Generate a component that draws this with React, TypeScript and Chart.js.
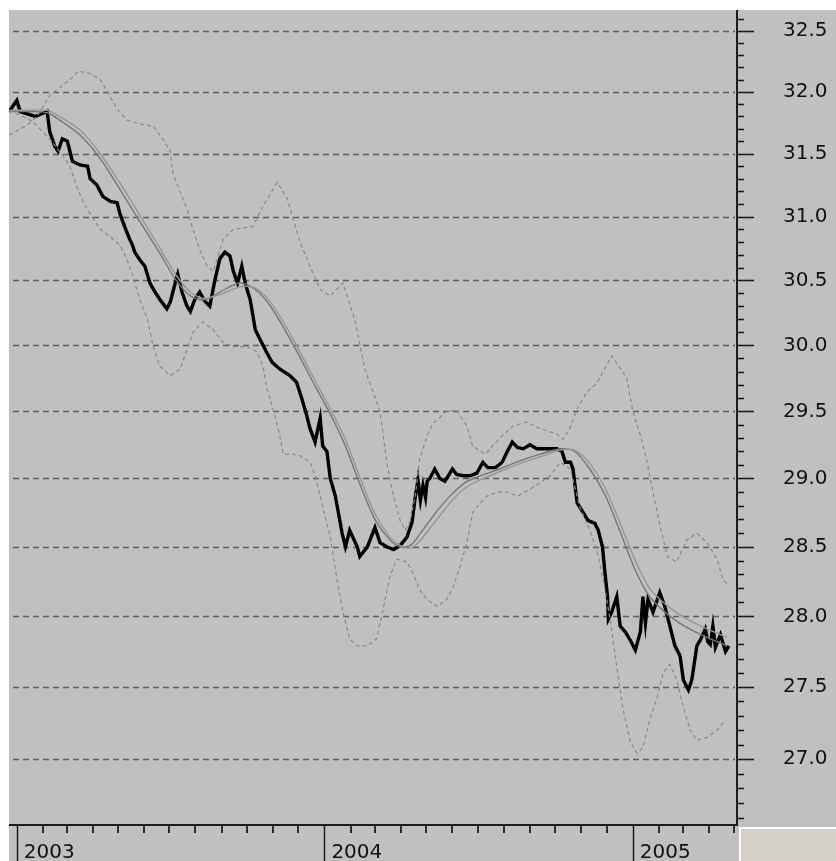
import React, { useEffect, useRef } from "react";
import { Chart, registerables } from "chart.js";

Chart.register(...registerables);

// x values are days counted from 1 January 2003
const priceDays = [-9, 0, 4, 22, 36, 39, 45, 49, 54, 60, 66, 75, 84, 87, 95, 102, 111, 119, 122, 128, 134, 137, 140, 146, 152, 158, 164, 170, 178, 182, 188, 191, 196, 202, 206, 211, 217, 223, 229, 235, 241, 247, 253, 257, 262, 267, 271, 277, 283, 289, 297, 303, 312, 324, 332, 338, 344, 348, 354, 360, 363, 368, 372, 378, 381, 386, 390, 395, 404, 407, 416, 425, 431, 439, 447, 455, 463, 469, 473, 476, 479, 482, 485, 487, 490, 496, 502, 508, 517, 522, 530, 538, 546, 553, 559, 568, 576, 582, 588, 594, 601, 609, 617, 629, 641, 647, 651, 657, 660, 665, 672, 678, 686, 690, 695, 698, 701, 702, 706, 712, 716, 722, 728, 734, 740, 743, 746, 749, 755, 763, 769, 775, 781, 787, 791, 797, 801, 807, 811, 817, 820, 823, 826, 829, 835, 841, 845];
const priceValues = [31.84, 31.93, 31.84, 31.8, 31.84, 31.68, 31.56, 31.52, 31.62, 31.6, 31.44, 31.41, 31.4, 31.3, 31.25, 31.16, 31.12, 31.11, 31.03, 30.92, 30.82, 30.78, 30.72, 30.66, 30.61, 30.48, 30.41, 30.35, 30.28, 30.33, 30.48, 30.55, 30.41, 30.3, 30.26, 30.35, 30.41, 30.34, 30.3, 30.5, 30.67, 30.72, 30.69, 30.57, 30.48, 30.61, 30.48, 30.35, 30.12, 30.04, 29.94, 29.87, 29.82, 29.77, 29.72, 29.6, 29.47, 29.37, 29.27, 29.45, 29.24, 29.2, 29.0, 28.87, 28.77, 28.6, 28.5, 28.62, 28.5, 28.43, 28.5, 28.64, 28.53, 28.5, 28.48, 28.51, 28.57, 28.68, 28.87, 28.99, 28.84, 28.95, 28.86, 28.98, 29.0, 29.07, 29.0, 28.98, 29.07, 29.03, 29.02, 29.02, 29.04, 29.12, 29.08, 29.08, 29.12, 29.2, 29.27, 29.23, 29.22, 29.25, 29.22, 29.22, 29.22, 29.2, 29.12, 29.12, 29.07, 28.82, 28.75, 28.69, 28.67, 28.62, 28.5, 28.31, 28.14, 27.98, 28.03, 28.14, 27.93, 27.89, 27.83, 27.76, 27.89, 28.14, 27.95, 28.12, 28.03, 28.17, 28.07, 27.93, 27.79, 27.72, 27.55, 27.48, 27.55, 27.79, 27.83, 27.91, 27.82, 27.8, 27.93, 27.78, 27.87, 27.75, 27.79, 27.8];

const maDays = [-9, 16, 36, 51, 75, 99, 122, 146, 170, 188, 206, 223, 241, 265, 283, 300, 318, 336, 354, 372, 390, 407, 425, 443, 455, 467, 478, 496, 514, 532, 550, 573, 597, 621, 645, 662, 680, 698, 716, 734, 751, 769, 787, 805, 823, 843];
const maFastValues = [31.84, 31.84, 31.83, 31.77, 31.65, 31.46, 31.22, 30.96, 30.71, 30.51, 30.38, 30.35, 30.41, 30.48, 30.43, 30.31, 30.12, 29.91, 29.69, 29.48, 29.24, 28.96, 28.7, 28.55, 28.5, 28.51, 28.59, 28.74, 28.87, 28.97, 29.02, 29.07, 29.13, 29.18, 29.22, 29.2, 29.07, 28.88, 28.61, 28.33, 28.14, 28.03, 27.95, 27.89, 27.84, 27.79];
const maSlowValues = [31.85, 31.85, 31.85, 31.8, 31.69, 31.5, 31.27, 31.01, 30.75, 30.55, 30.41, 30.36, 30.39, 30.45, 30.44, 30.34, 30.16, 29.95, 29.73, 29.52, 29.29, 29.01, 28.74, 28.57, 28.51, 28.49, 28.54, 28.68, 28.82, 28.93, 28.99, 29.05, 29.11, 29.16, 29.21, 29.21, 29.11, 28.93, 28.67, 28.4, 28.2, 28.09, 28.01, 27.95, 27.9, 27.85];

const upperDays = [-9, 12, 24, 39, 63, 73, 87, 99, 107, 119, 131, 146, 162, 173, 182, 185, 194, 202, 209, 217, 226, 233, 245, 257, 280, 292, 309, 321, 328, 336, 348, 360, 372, 387, 401, 413, 431, 439, 447, 455, 461, 467, 473, 478, 487, 494, 510, 522, 534, 541, 556, 573, 589, 605, 621, 641, 648, 656, 665, 677, 688, 706, 724, 731, 740, 748, 755, 763, 772, 783, 795, 807, 819, 831, 838, 844];
const upperValues = [31.65, 31.73, 31.8, 31.97, 32.1, 32.17, 32.15, 32.1, 32.01, 31.86, 31.77, 31.74, 31.72, 31.62, 31.52, 31.35, 31.19, 31.06, 30.9, 30.74, 30.61, 30.57, 30.82, 30.9, 30.92, 31.08, 31.27, 31.14, 30.98, 30.8, 30.61, 30.43, 30.38, 30.48, 30.2, 29.82, 29.5, 29.12, 28.87, 28.69, 28.62, 28.69, 28.88, 29.14, 29.32, 29.41, 29.5, 29.51, 29.39, 29.24, 29.18, 29.3, 29.39, 29.42, 29.37, 29.33, 29.29, 29.37, 29.52, 29.65, 29.71, 29.92, 29.75, 29.5, 29.32, 29.12, 28.9, 28.66, 28.43, 28.39, 28.55, 28.6, 28.53, 28.41, 28.26, 28.23];

const lowerDays = [-9, 19, 39, 55, 63, 71, 79, 91, 99, 111, 123, 131, 138, 146, 155, 162, 170, 182, 194, 202, 209, 221, 233, 245, 257, 273, 285, 292, 297, 304, 312, 316, 328, 336, 348, 354, 360, 366, 372, 380, 387, 395, 404, 416, 427, 434, 443, 451, 463, 470, 478, 487, 499, 510, 518, 526, 534, 541, 550, 558, 570, 582, 594, 609, 621, 633, 645, 657, 668, 680, 689, 696, 704, 712, 719, 728, 736, 743, 751, 760, 767, 775, 783, 791, 799, 807, 819, 831, 841];
const lowerValues = [31.85, 31.76, 31.62, 31.48, 31.4, 31.24, 31.11, 30.98, 30.9, 30.84, 30.77, 30.66, 30.53, 30.35, 30.2, 29.99, 29.84, 29.77, 29.82, 29.97, 30.1, 30.18, 30.12, 30.02, 29.99, 29.99, 29.95, 29.84, 29.67, 29.52, 29.32, 29.18, 29.18, 29.17, 29.12, 29.02, 28.87, 28.72, 28.57, 28.26, 28.03, 27.84, 27.79, 27.79, 27.84, 28.03, 28.29, 28.41, 28.39, 28.31, 28.19, 28.12, 28.07, 28.12, 28.21, 28.36, 28.53, 28.75, 28.82, 28.87, 28.9, 28.9, 28.87, 28.92, 28.97, 29.02, 29.12, 29.07, 28.79, 28.62, 28.46, 28.26, 27.98, 27.64, 27.36, 27.12, 27.04, 27.08, 27.27, 27.43, 27.6, 27.66, 27.55, 27.36, 27.2, 27.13, 27.15, 27.2, 27.27];

const yTickValues = [27.0, 27.5, 28.0, 28.5, 29.0, 29.5, 30.0, 30.5, 31.0, 31.5, 32.0, 32.5];
const yearLabels = ["2003", "2004", "2005"];
const yearDays = [0, 365, 731];
const monthDays = [0, 31, 59, 90, 120, 151, 181, 212, 243, 273, 304, 334, 365, 396, 425, 456, 486, 517, 547, 578, 609, 639, 670, 700, 731, 762, 790, 821, 851];

const X_MIN = -9.256;
const X_MAX = 854.64;
const Y_MIN = 26.551;
const Y_MAX = 32.674;

const FONT = { family: "DejaVu Sans", size: 20 };

const toPoints = (xs: number[], ys: number[]) => xs.map((x, i) => ({ x, y: ys[i] }));

const decorPlugin = {
  id: "decor",
  beforeDatasetsDraw(chart: any) {
    const { ctx, chartArea: a } = chart;
    const y = chart.scales.y;
    ctx.save();
    ctx.strokeStyle = "#5e5e5e";
    ctx.lineWidth = 1.3;
    ctx.setLineDash([6, 4]);
    yTickValues.forEach((v) => {
      const py = Math.round(y.getPixelForValue(v)) + 0.5;
      ctx.beginPath();
      ctx.moveTo(a.left + 4, py);
      ctx.lineTo(a.right - 2, py);
      ctx.stroke();
    });
    ctx.restore();
  },
  afterDraw(chart: any) {
    const { ctx, chartArea: a, width, height } = chart;
    const { x, y } = chart.scales;
    ctx.save();
    ctx.strokeStyle = "#1c1c1c";
    ctx.setLineDash([]);
    // right value axis
    ctx.lineWidth = 2;
    ctx.beginPath();
    ctx.moveTo(a.right, a.top);
    ctx.lineTo(a.right, a.bottom + 1);
    ctx.stroke();
    ctx.lineWidth = 1.6;
    for (let k = 266; k <= 326; k++) {
      const py = Math.round(y.getPixelForValue(k / 10)) + 0.5;
      if (py < a.top || py > a.bottom - 2) continue;
      const major = k % 5 === 0;
      ctx.beginPath();
      ctx.moveTo(a.right, py);
      ctx.lineTo(a.right + (major ? 17 : 7), py);
      ctx.stroke();
    }
    // bottom time axis
    ctx.lineWidth = 2;
    ctx.beginPath();
    ctx.moveTo(a.left, a.bottom);
    ctx.lineTo(a.right + 1, a.bottom);
    ctx.stroke();
    ctx.lineWidth = 1.8;
    monthDays.forEach((d) => {
      if (yearDays.includes(d)) return;
      const px = Math.round(x.getPixelForValue(d));
      if (px < a.left || px > a.right) return;
      ctx.beginPath();
      ctx.moveTo(px, a.bottom);
      ctx.lineTo(px, a.bottom + 8);
      ctx.stroke();
    });
    ctx.lineWidth = 1.5;
    yearDays.forEach((d) => {
      const px = Math.round(x.getPixelForValue(d)) + 0.5;
      ctx.beginPath();
      ctx.moveTo(px, a.bottom);
      ctx.lineTo(px, height);
      ctx.stroke();
    });
    // lower right panel
    const px0 = a.right + 2;
    const py0 = a.bottom + 2;
    ctx.fillStyle = "#ffffff";
    ctx.fillRect(px0, py0, width - px0, height - py0);
    ctx.fillStyle = "#d4d0c8";
    ctx.fillRect(px0 + 2, py0 + 2, width - px0 - 2, height - py0 - 2);
    ctx.restore();
  },
};

export default function App() {
  const canvasRef = useRef<HTMLCanvasElement | null>(null);

  useEffect(() => {
    if (!canvasRef.current) return;
    const bandStyle = {
      borderColor: "#8a8a8a",
      borderWidth: 1.2,
      borderDash: [4, 3],
      pointRadius: 0,
      fill: false,
      tension: 0,
    };
    const chart = new Chart(canvasRef.current, {
      type: "line",
      data: {
        datasets: [
          { label: "Upper band", data: toPoints(upperDays, upperValues), ...bandStyle },
          { label: "Lower band", data: toPoints(lowerDays, lowerValues), ...bandStyle },
          {
            label: "Slow average",
            data: toPoints(maDays, maSlowValues),
            borderColor: "#969696",
            borderWidth: 1.4,
            pointRadius: 0,
            tension: 0.3,
          },
          {
            label: "Fast average",
            data: toPoints(maDays, maFastValues),
            borderColor: "#767676",
            borderWidth: 1.4,
            pointRadius: 0,
            tension: 0.3,
          },
          {
            label: "Price",
            data: toPoints(priceDays, priceValues),
            borderColor: "#000000",
            borderWidth: 3.4,
            pointRadius: 0,
            tension: 0,
          },
        ],
      },
      options: {
        animation: false,
        responsive: true,
        maintainAspectRatio: false,
        layout: { padding: 0 },
        plugins: { legend: { display: false }, tooltip: { enabled: false } },
        scales: {
          x: {
            type: "linear",
            position: "bottom",
            min: X_MIN,
            max: X_MAX,
            bounds: "data",
            grid: { display: false, drawTicks: false },
            border: { display: false },
            afterBuildTicks: (s: any) => {
              s.ticks = yearDays.map((v) => ({ value: v }));
            },
            afterFit: (s: any) => {
              s.height = 36;
              s.paddingLeft = 0;
              s.paddingRight = 0;
            },
            ticks: {
              autoSkip: false,
              maxRotation: 0,
              minRotation: 0,
              align: "start",
              labelOffset: 7,
              padding: 16,
              color: "#111111",
              font: FONT,
              callback: (_v: any, i: number) => yearLabels[i],
            },
          },
          y: {
            type: "logarithmic",
            position: "right",
            min: Y_MIN,
            max: Y_MAX,
            bounds: "data",
            grid: { display: false, drawTicks: false },
            border: { display: false },
            afterBuildTicks: (s: any) => {
              s.ticks = yTickValues.map((v) => ({ value: v }));
            },
            afterFit: (s: any) => {
              s.width = 99;
              s.paddingTop = 0;
              s.paddingBottom = 0;
            },
            ticks: {
              autoSkip: false,
              padding: 46,
              color: "#111111",
              font: FONT,
              callback: (v: any) => Number(v).toFixed(1),
            },
          },
        },
      } as any,
      plugins: [decorPlugin],
    });
    return () => chart.destroy();
  }, []);

  return (
    <div
      style={{
        position: "absolute",
        left: 9,
        top: 10,
        width: 827,
        height: 851,
        background: "#c0c0c0",
      }}
    >
      <canvas ref={canvasRef} />
    </div>
  );
}
